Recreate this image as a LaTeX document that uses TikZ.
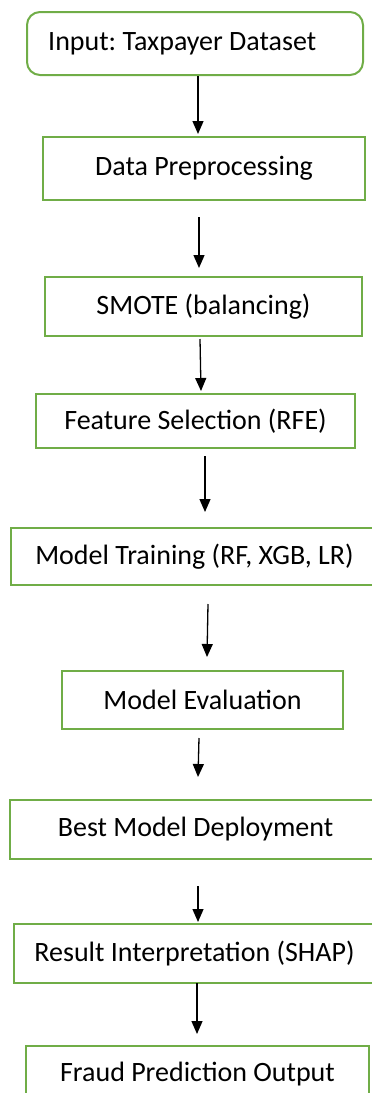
\documentclass[tikz,border=0pt]{standalone}
\usepackage{fontspec}
\setmainfont{Carlito}
\usetikzlibrary{arrows.meta}
\definecolor{boxgreen}{HTML}{70AD47}
\tikzset{
  stepbox/.style={draw=boxgreen, line width=2pt, inner sep=0pt, font=\fontsize{28}{33}\selectfont\frenchspacing, text=black},
  roundbox/.style={stepbox, rounded corners=13pt},
  plaintext/.style={inner sep=0pt, font=\fontsize{28}{33}\selectfont\frenchspacing, text=black},
  arr/.style={line width=1.3pt, -{Triangle[width=11pt,length=13pt]}}
}
\begin{document}
\begin{tikzpicture}[x=1pt,y=-1pt]
\useasboundingbox (0,0) rectangle (372,1093);
\node[roundbox, minimum width=336pt, minimum height=63pt] (n1) at (195,43.5) {};
\node[plaintext, anchor=west] (t1) at ([xshift=22pt]n1.west) {Input: Taxpayer Dataset};
\node[stepbox, minimum width=322pt, minimum height=63pt] (n2) at (204,168.5) {Data Preprocessing};
\node[stepbox, minimum width=317pt, minimum height=59pt] (n3) at (203.5,306.5) {SMOTE (balancing)};
\node[stepbox, minimum width=319pt, minimum height=54pt] (n4) at (195.5,421) {Feature Selection (RFE)};
\node[stepbox, minimum width=367pt, minimum height=57pt] (n5) at (194.5,556.5) {Model Training (RF, XGB, LR)};
\node[stepbox, minimum width=281pt, minimum height=58pt] (n6) at (202.5,700) {Model Evaluation};
\node[stepbox, minimum width=371pt, minimum height=59pt] (n7) at (195.5,829.5) {Best Model Deployment};
\node[stepbox, minimum width=361pt, minimum height=59pt] (n8) at (194.5,953.5) {Result Interpretation (SHAP)};
\node[stepbox, minimum width=343pt, minimum height=56pt] (n9) at (197.5,1074) {Fraud Prediction Output};
\draw[arr] ([xshift=3pt]n1.south) -- ([xshift=-6pt,yshift=2pt]n2.north);
\draw[arr] ([xshift=-5pt,yshift=-16pt]n2.south) -- ([xshift=-4.5pt,yshift=8pt]n3.north);
\draw[arr] ([xshift=-3.5pt,yshift=-2pt]n3.south) -- ([xshift=5.5pt,yshift=2pt]n4.north);
\draw[arr] ([xshift=9.5pt,yshift=-7pt]n4.south) -- ([xshift=10.5pt,yshift=15pt]n5.north);
\draw[arr] ([xshift=13.5pt,yshift=-18pt]n5.south) -- ([xshift=4.5pt,yshift=13pt]n6.north);
\draw[arr] ([xshift=-3.5pt,yshift=-8pt]n6.south) -- ([xshift=2.5pt,yshift=22pt]n7.north);
\draw[arr] ([xshift=2.5pt,yshift=-26pt]n7.south) -- ([xshift=3.5pt,yshift=1pt]n8.north);
\draw[arr] ([xshift=2.5pt,yshift=1pt]n8.south) -- ([xshift=-0.5pt,yshift=11pt]n9.north);
\end{tikzpicture}
\end{document}
